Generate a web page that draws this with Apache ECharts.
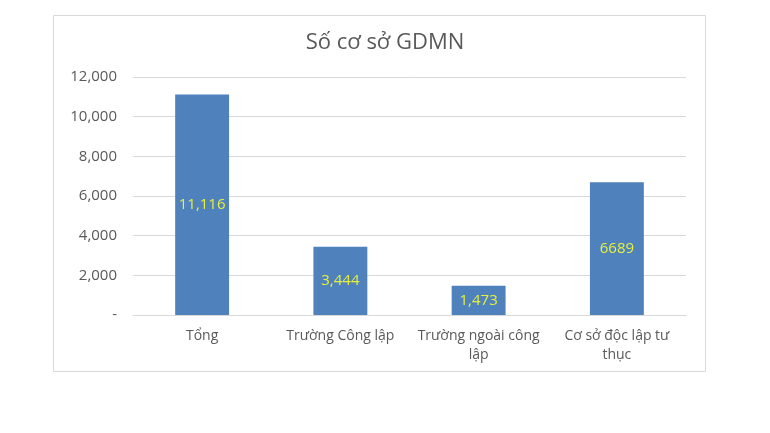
<!DOCTYPE html>
<html>
<head>
<meta charset="utf-8">
<script src="https://cdn.jsdelivr.net/npm/echarts@6/dist/echarts.min.js"></script>
<style>
  html, body { margin: 0; padding: 0; background: #fff; }
  #main { width: 770px; height: 433px; }
</style>
</head>
<body>
<div id="main"></div>
<script>
// data
var categories = ['Tổng', 'Trường Công lập', 'Trường ngoài công lập', 'Cơ sở độc lập tư thục'];
var values = [11116, 3444, 1473, 6689];
var valueLabels = ['11,116', '3,444', '1,473', '6689'];
var yTicks = [0, 2000, 4000, 6000, 8000, 10000, 12000];

var font = '"Open Sans", "Noto Sans", sans-serif';

// long names wrap their last word onto a second line
function wrapLabel(s) {
  if (s.length <= 16) return s;
  var i = s.lastIndexOf(' ');
  return s.slice(0, i) + '\n' + s.slice(i + 1);
}

var option = {
  animation: false,
  backgroundColor: '#fff',
  title: {
    text: 'Số cơ sở GDMN',
    left: 'center',
    top: 27,
    textStyle: { fontFamily: font, fontSize: 22, fontWeight: 'normal', color: '#595959' }
  },
  graphic: [{
    type: 'rect',
    shape: { x: 53.5, y: 15.5, width: 652, height: 356 },
    style: { fill: 'none', stroke: '#d9d9d9', lineWidth: 1 },
    silent: true
  }],
  grid: { left: 133, right: 84, top: 77, bottom: 118 },
  xAxis: {
    type: 'category',
    data: categories,
    axisTick: { show: false },
    axisLine: { lineStyle: { color: '#d9d9d9' } },
    axisLabel: {
      color: '#595959', fontFamily: font, fontSize: 14, margin: 12,
      interval: 0, lineHeight: 19,
      formatter: wrapLabel
    }
  },
  yAxis: {
    type: 'value',
    min: yTicks[0],
    max: yTicks[yTicks.length - 1],
    interval: 2000,
    axisLine: { show: false },
    axisTick: { show: false },
    splitLine: { lineStyle: { color: '#d9d9d9' } },
    axisLabel: {
      color: '#595959', fontFamily: font, fontSize: 15, margin: 16,
      formatter: function (v) { return v === 0 ? '-' : v.toLocaleString('en-US'); }
    }
  },
  series: [{
    type: 'bar',
    data: values,
    barWidth: '39%',
    itemStyle: { color: '#4f81bd' },
    label: {
      show: true,
      position: 'inside',
      color: '#e6f03c',
      fontFamily: font,
      fontSize: 15,
      formatter: function (p) { return valueLabels[p.dataIndex]; }
    }
  }]
};
echarts.init(document.getElementById('main')).setOption(option);
</script>
</body>
</html>
